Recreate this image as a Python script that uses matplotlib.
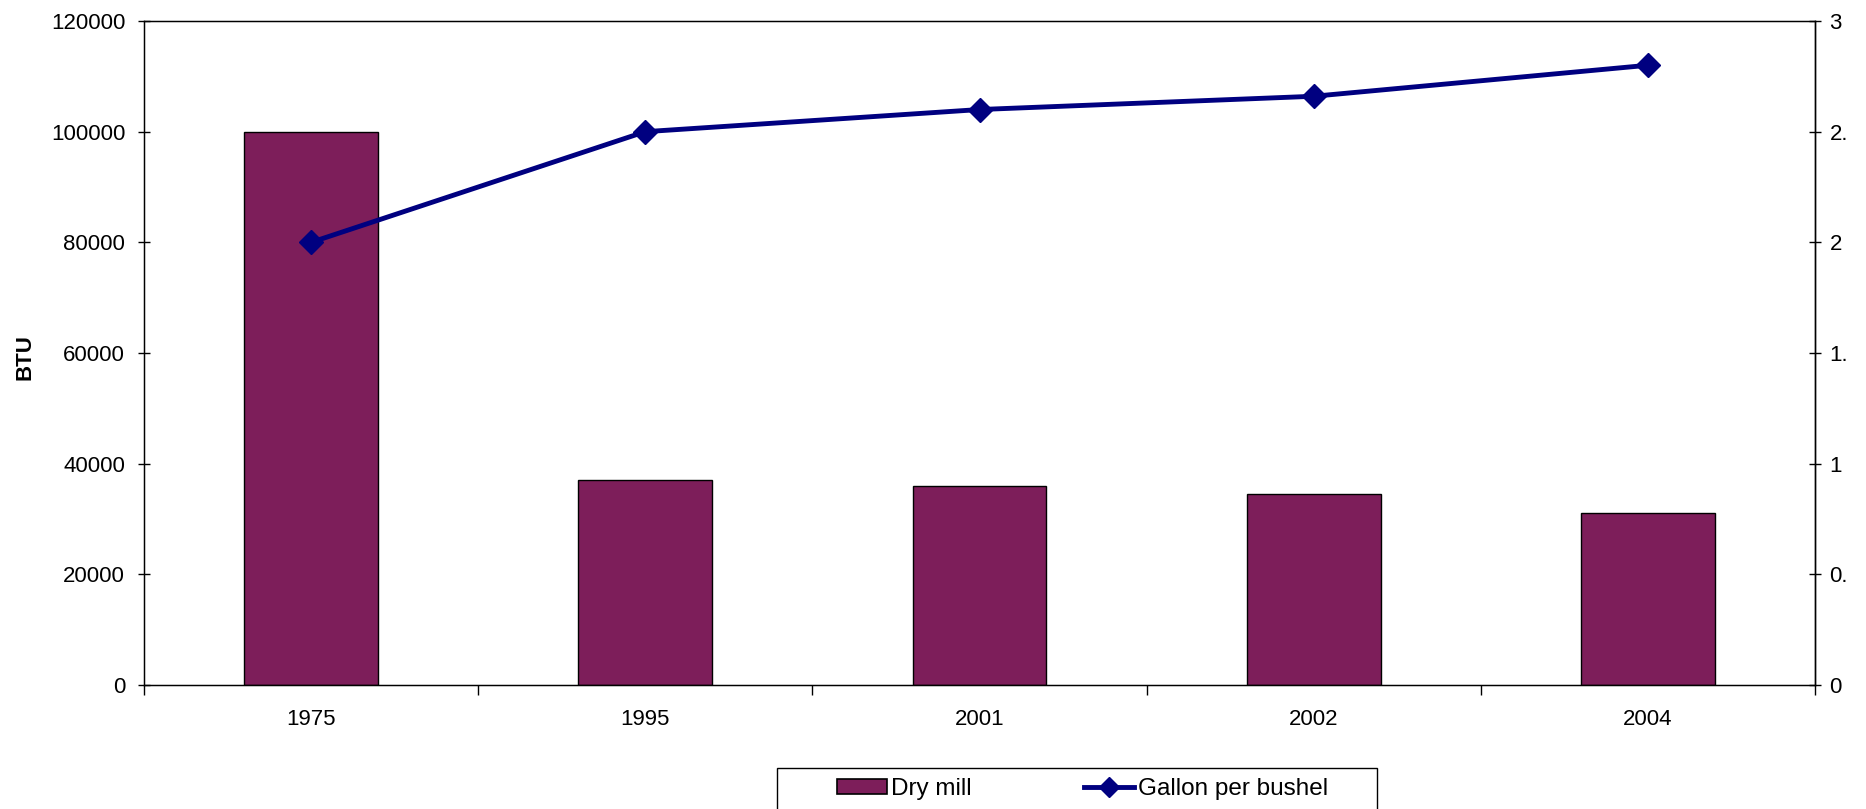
import matplotlib.pyplot as plt
from matplotlib.patches import Rectangle
from matplotlib.lines import Line2D
import numpy as np

plt.rcParams['font.family'] = ['Liberation Sans', 'DejaVu Sans']

years = ['1975', '1995', '2001', '2002', '2004']
dry_mill = [100000, 37000, 36000, 34600, 31000]
gallon_per_bushel = [2.0, 2.5, 2.6, 2.66, 2.8]
left_ticks = [0, 20000, 40000, 60000, 80000, 100000, 120000]
right_ticks = [0, 0.5, 1, 1.5, 2, 2.5, 3]
# the right-hand labels are cut off at the image edge in the original
right_labels = ['0', '0.', '1', '1.', '2', '2.', '3']

bar_color = '#7D1E5A'
line_color = '#000080'
fs = 16

fig = plt.figure(figsize=(18.66, 8.09), dpi=100)
ax = fig.add_axes([144/1866, 1-685/809, (1815-144)/1866, (685-21)/809])
x = np.arange(len(years))

ax.bar(x, dry_mill, width=0.4, color=bar_color, edgecolor='black', linewidth=1, zorder=2)
ax.set_xlim(-0.5, len(years)-0.5)
ax.set_ylim(0, 120000)
ax.set_yticks(left_ticks)
ax.set_yticklabels([str(t) for t in left_ticks])
ax.set_xticks(x)
ax.set_xticklabels(years)
ax.set_xticks(np.arange(-0.5, len(years)), minor=True)
ax.tick_params(axis='x', which='major', length=0, labelsize=fs, pad=17)
ax.tick_params(axis='x', which='minor', length=7, direction='out', width=1)
ax.tick_params(axis='y', length=9, direction='inout', width=1, labelsize=fs, pad=9)
fig.text(25/1866, 1-357/809, 'BTU', fontsize=16, fontweight='bold',
         family=['Liberation Sans Narrow', 'Liberation Sans'],
         rotation=90, ha='center', va='center')
for s in ax.spines.values():
    s.set_linewidth(1)
    s.set_color('black')

ax2 = ax.twinx()
ax2.plot(x, gallon_per_bushel, color=line_color, lw=3.5, marker='D', markersize=12.5,
         zorder=3)
ax2.set_ylim(0, 3)
ax2.set_yticks(right_ticks)
ax2.set_yticklabels(right_labels)
ax2.tick_params(axis='y', length=9, direction='inout', width=1, labelsize=fs, pad=6)
ax2.spines['right'].set_linewidth(1)

# legend box, running off the bottom of the image
fig.add_artist(Rectangle((777/1866, -0.05), 600/1866, 0.05 + 1-768/809,
                         transform=fig.transFigure, facecolor='white',
                         edgecolor='black', linewidth=1, clip_on=False))
handles = [Rectangle((0, 0), 1, 1, facecolor=bar_color, edgecolor='black', linewidth=1.2),
           Line2D([], [], color=line_color, lw=3.5, marker='D', markersize=10)]
fig.legend(handles, ['Dry mill', 'Gallon per bushel'], loc='center left',
           bbox_to_anchor=(837/1866, 1-789/809), ncol=2, frameon=False,
           fontsize=17.5, borderpad=0, borderaxespad=0, handlelength=2.06,
           handleheight=0.6, handletextpad=0.15, columnspacing=4.65)

fig.savefig('out.png', dpi=100)
